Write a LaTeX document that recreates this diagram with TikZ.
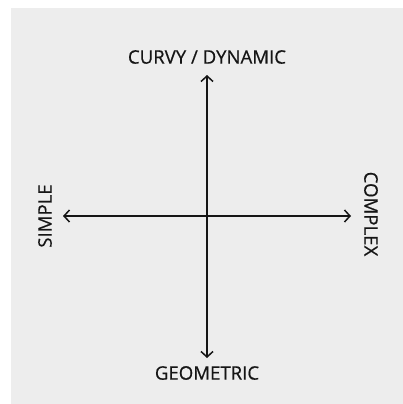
\documentclass[tikz,border=0pt]{standalone}
\usepackage{fontspec}
\setmainfont{Open Sans}[FakeBold=0.5]
\usetikzlibrary{arrows.meta}
\definecolor{bg}{HTML}{EDEDED}
\definecolor{ink}{HTML}{151515}
\tikzset{
  axis/.style={draw=ink, line width=1.7pt, {Straight Barb[length=5.5pt,width=12pt,line width=1.5pt]}-{Straight Barb[length=5.5pt,width=12pt,line width=1.5pt]}},
  lbl/.style={font=\fontsize{18.6}{21}\selectfont, text=ink, inner sep=0pt}
}
\begin{document}
\begin{tikzpicture}[x=1pt,y=-1pt]
\useasboundingbox (0,0) rectangle (403,404);
\fill[white] (0,0) rectangle (403,404);
\fill[bg] (11,8) rectangle (403,404);
\coordinate (top) at (207,75);
\coordinate (bot) at (207,358);
\coordinate (lft) at (63,216);
\coordinate (rgt) at (351,216);
\draw[axis] (bot) -- (top);
\draw[axis] (lft) -- (rgt);
\node[lbl] (curvy) at (207,57) {CURVY / DYNAMIC};
\node[lbl] (geo) at (207,373) {GEOMETRIC};
\node[lbl, rotate=90] (simple) at (45,216) {SIMPLE};
\node[lbl, rotate=-90] (complex) at (371,214) {COMPLEX};
\end{tikzpicture}
\end{document}
